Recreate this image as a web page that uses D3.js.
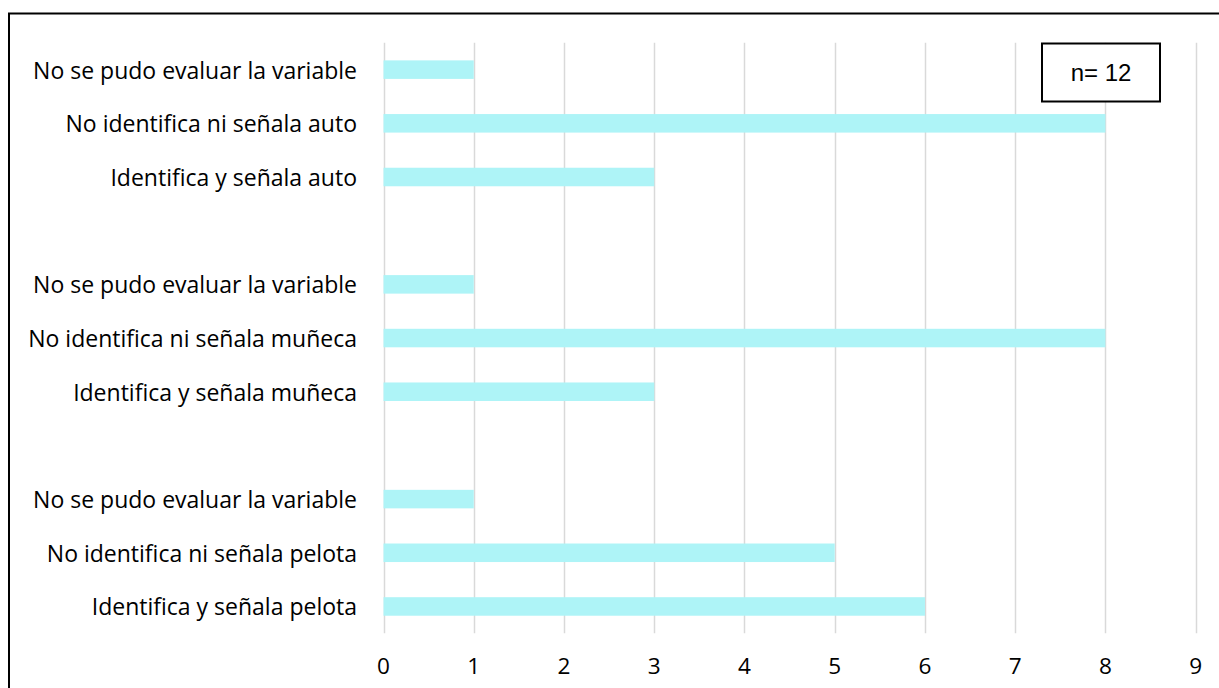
<!DOCTYPE html>
<html><head><meta charset="utf-8">
<script src="https://cdn.jsdelivr.net/npm/d3@7"></script>
<style>body{margin:0;background:#fff}svg{display:block}</style>
</head><body><svg id="c" width="1219" height="688"></svg>
<script>
const categories = [
  "No se pudo evaluar la variable|a",
  "No identifica ni señala auto",
  "Identifica y señala auto",
  "gap1",
  "No se pudo evaluar la variable|b",
  "No identifica ni señala muñeca",
  "Identifica y señala muñeca",
  "gap2",
  "No se pudo evaluar la variable|c",
  "No identifica ni señala pelota",
  "Identifica y señala pelota"
];
const values = [1, 8, 3, null, 1, 8, 3, null, 1, 5, 6];
const xTicks = [0,1,2,3,4,5,6,7,8,9];
const noteText = "n= 12";

const svg = d3.select("#c");
// outer frame (left + top)
svg.append("line").attr("x1",9).attr("x2",9).attr("y1",13).attr("y2",688).attr("stroke","#000").attr("stroke-width",2);
svg.append("line").attr("x1",8).attr("x2",1219).attr("y1",13.5).attr("y2",13.5).attr("stroke","#000").attr("stroke-width",2);

const x = d3.scaleLinear().domain([0,9]).range([383.5,1195.7]);
const y = d3.scaleBand().domain(categories).range([42.8,633.3]).paddingInner(0.655).paddingOuter(0.3275);

// gridlines
svg.append("g").selectAll("line").data(xTicks).join("line")
  .attr("x1",d=>Math.round(x(d))+0.5).attr("x2",d=>Math.round(x(d))+0.5)
  .attr("y1",42.8).attr("y2",633.3)
  .attr("stroke","#d9d9d9").attr("stroke-width",1.5);

// bars
const data = categories.map((c,i)=>({c,v:values[i]})).filter(d=>d.v!=null);
svg.append("g").selectAll("rect").data(data).join("rect")
  .attr("x",x(0)).attr("y",d=>y(d.c)).attr("width",d=>x(d.v)-x(0)).attr("height",y.bandwidth())
  .attr("fill","#aef4f7");

// y labels
svg.append("g").selectAll("text").data(data).join("text")
  .attr("x",357).attr("y",d=>y(d.c)+y.bandwidth()/2)
  .attr("text-anchor","end").attr("dominant-baseline","central")
  .attr("font-family","'Open Sans', sans-serif").attr("font-size",23).attr("fill","#000")
  .text(d=>d.c.split("|")[0]);

// x tick labels
svg.append("g").selectAll("text").data(xTicks).join("text")
  .attr("x",d=>x(d)).attr("y",665)
  .attr("text-anchor","middle").attr("dominant-baseline","central")
  .attr("font-family","'Open Sans', sans-serif").attr("font-size",22.6).attr("fill","#000")
  .text(d=>d);

// note box
svg.append("rect").attr("x",1042).attr("y",43.5).attr("width",118).attr("height",58)
  .attr("fill","#fff").attr("stroke","#000").attr("stroke-width",2);
svg.append("text").attr("x",1101).attr("y",72.5).attr("text-anchor","middle").attr("dominant-baseline","central")
  .attr("font-family","'Liberation Sans', Arial, sans-serif").attr("font-size",24).attr("fill","#000").text(noteText);
</script></body></html>
